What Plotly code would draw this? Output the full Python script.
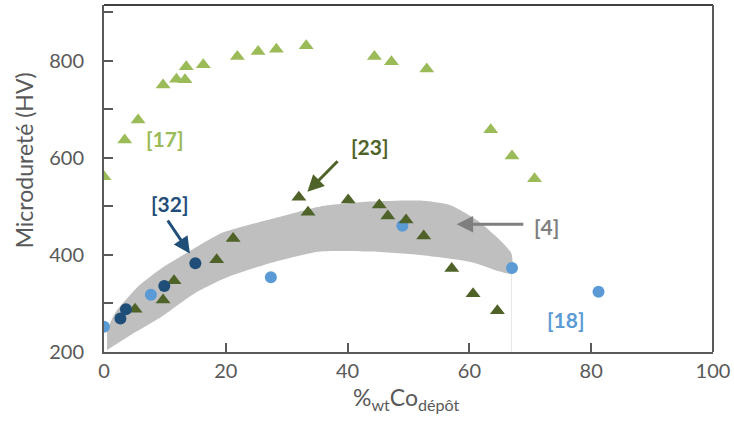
import plotly.graph_objects as go

# [17] light green triangles
ref17_x = [0, 3.4, 5.6, 9.7, 11.9, 13.3, 13.5, 16.3, 21.9, 25.3, 28.3, 33.2, 44.4, 47.2, 53.0, 63.5, 67.0, 70.7]
ref17_y = [561, 637, 678, 750, 762, 761, 788, 792, 809, 819, 824, 831, 809, 798, 783, 658, 604, 557]

# [23] dark green triangles
ref23_x = [5.1, 9.7, 11.5, 18.5, 21.2, 32.0, 33.5, 40.1, 45.2, 46.6, 49.6, 52.5, 57.1, 60.6, 64.6]
ref23_y = [288, 307, 347, 390, 434, 519, 488, 513, 503, 480, 472, 439, 372, 320, 285]

# [32] navy circles
ref32_x = [2.7, 3.6, 9.9, 15.0]
ref32_y = [269, 288, 336, 383]

# [18] light blue circles
ref18_x = [0, 7.7, 27.4, 49.0, 67.0, 81.2]
ref18_y = [252, 318, 354, 460, 373, 324]

# [4] band (upper and lower boundary)
band_upper_x = [0.5, 1.8, 5.6, 9.5, 14.4, 19.3, 28.1, 35.5, 43.7, 51.9, 56.8, 61.2, 65.0, 66.9]
band_upper_y = [245, 280, 335, 373, 410, 445, 476, 500, 510, 512, 503, 472, 431, 403]
band_lower_x = [0.5, 4.0, 9.5, 14.9, 20.4, 28.1, 35.5, 43.7, 51.9, 60.1, 66.9]
band_lower_y = [204, 232, 273, 321, 355, 386, 407, 407, 400, 386, 362]

x_ticks = [0, 20, 40, 60, 80, 100]
y_ticks = [200, 400, 600, 800]
y_minor = [300, 500, 700, 900]

C17 = "#9BBB59"
C23 = "#4F6228"
C32 = "#1F4E79"
C18 = "#5B9BD5"
CBAND = "#BFBFBF"
CGRAY = "#7F7F7F"
AX = "#595959"
FONT = "Lato"

fig = go.Figure()

fig.add_trace(go.Scatter(
    x=band_upper_x + band_lower_x[::-1],
    y=band_upper_y + band_lower_y[::-1],
    fill="toself", fillcolor=CBAND, mode="lines",
    line=dict(color=CBAND, width=0, shape="spline", smoothing=0.6),
    hoverinfo="skip", showlegend=False))

# faint vertical line under the band end
fig.add_trace(go.Scatter(
    x=[band_lower_x[-1], band_lower_x[-1]], y=[200, band_lower_y[-1]],
    mode="lines", line=dict(color="#E6E6E6", width=1), showlegend=False, hoverinfo="skip"))

fig.add_trace(go.Scatter(x=ref17_x, y=ref17_y, mode="markers",
                         marker=dict(symbol="triangle-up", size=13, color=C17), showlegend=False))
fig.add_trace(go.Scatter(x=ref18_x, y=ref18_y, mode="markers",
                         marker=dict(symbol="circle", size=12, color=C18), showlegend=False))
fig.add_trace(go.Scatter(x=ref23_x, y=ref23_y, mode="markers",
                         marker=dict(symbol="triangle-up", size=13, color=C23), showlegend=False))
fig.add_trace(go.Scatter(x=ref32_x, y=ref32_y, mode="markers",
                         marker=dict(symbol="circle", size=12, color=C32), showlegend=False))

labels = [
    ("[17]", 10.0, 639, C17),
    ("[32]", 10.8, 507, C32),
    ("[23]", 43.6, 623, C23),
    ("[4]", 72.7, 458, CGRAY),
    ("[18]", 75.9, 266, C18),
]
for txt, lx, ly, col in labels:
    fig.add_annotation(x=lx, y=ly, text="<b>%s</b>" % txt, showarrow=False,
                       xanchor="center", yanchor="middle",
                       font=dict(family=FONT, size=21, color=col))

arrows = [
    (14.1, 403, 10.3, 474, C32),
    (33.4, 530, 38.6, 596, C23),
    (57.9, 463, 69.1, 463, CGRAY),
]
for hx, hy, tx, ty, col in arrows:
    fig.add_annotation(x=hx, y=hy, ax=tx, ay=ty, xref="x", yref="y", axref="x", ayref="y",
                       text="", showarrow=True, arrowhead=2, arrowsize=1.1, arrowwidth=3,
                       arrowcolor=col)

# axis titles
fig.add_annotation(x=0.4975, y=-0.1326, xref="paper", yref="paper",
                   xanchor="center", yanchor="middle",
                   text="%<sub>wt</sub>Co<sub>dépôt</sub>", showarrow=False,
                   font=dict(family=FONT, size=23, color=AX))
fig.add_annotation(x=-0.131, y=0.553, xref="paper", yref="paper", textangle=-90,
                   xanchor="center", yanchor="middle",
                   text="Microdureté (HV)", showarrow=False,
                   font=dict(family=FONT, size=23, color=AX))

# top black border and right gray border
fig.add_shape(type="line", xref="paper", yref="paper", x0=0, x1=1, y0=1, y1=1,
              line=dict(color="black", width=1.5))
fig.add_shape(type="line", xref="paper", yref="paper", x0=1, x1=1, y0=0, y1=1,
              line=dict(color=AX, width=2))

fig.update_xaxes(range=[0, 100], tickvals=x_ticks, automargin=False,
                 ticks="inside", ticklen=9, tickwidth=1.5, tickcolor=AX,
                 showline=True, linecolor=AX, linewidth=2, showgrid=False, zeroline=False,
                 tickfont=dict(family=FONT, size=20, color=AX))
fig.update_yaxes(range=[200, 915], tickvals=y_ticks, automargin=False,
                 ticks="inside", ticklen=9, tickwidth=1.5, tickcolor=AX,
                 minor=dict(tickvals=y_minor, ticks="inside", ticklen=9,
                            tickwidth=1.5, tickcolor=AX),
                 showline=True, linecolor=AX, linewidth=2, showgrid=False, zeroline=False,
                 ticklabelstandoff=14,
                 tickfont=dict(family=FONT, size=20, color=AX))

fig.update_layout(width=734, height=423, margin=dict(l=104, r=21, t=5, b=71),
                  plot_bgcolor="white", paper_bgcolor="white", showlegend=False)

fig.write_html("out.html", config={"displayModeBar": False},
               post_script="document.body.style.margin='0';")
